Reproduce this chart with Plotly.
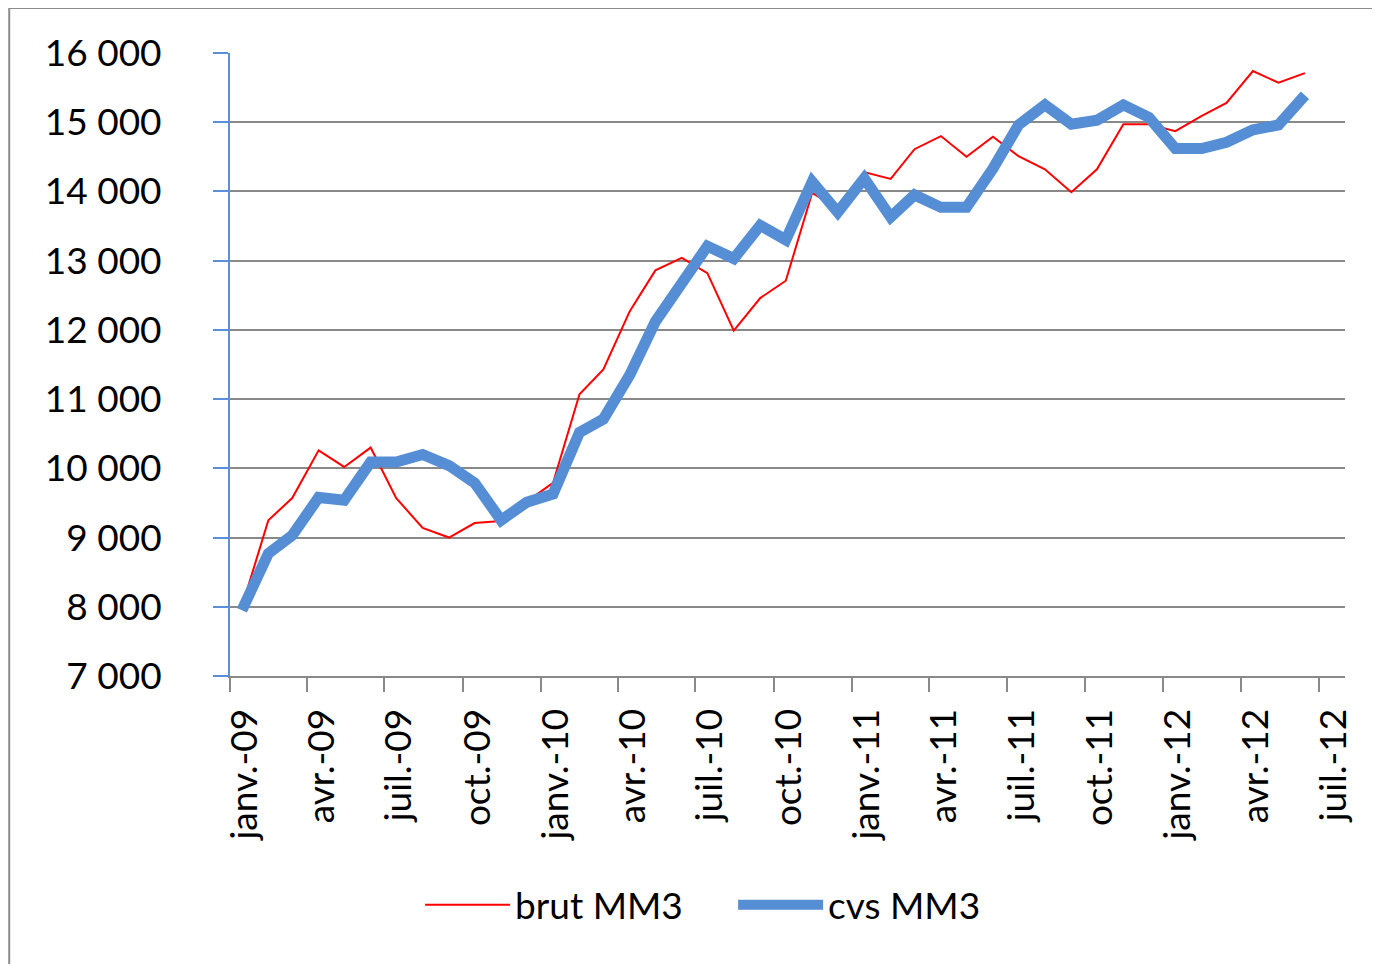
import pandas as pd
import plotly.graph_objects as go

# monthly series, janv. 2009 -> juin 2012
start_month = "2009-01-01"
n_months = 42

brut_mm3 = [8000, 9250, 9570, 10260, 10020, 10300, 9570, 9140, 9000, 9210, 9240, 9520,
            9790, 11070, 11430, 12270, 12860, 13040, 12820, 11990, 12460, 12710, 13980, 13750,
            14280, 14180, 14610, 14800, 14500, 14790, 14510, 14320, 13990, 14320, 14970, 14970,
            14870, 15090, 15280, 15740, 15570, 15710]

cvs_mm3 = [7950, 8770, 9030, 9580, 9540, 10090, 10090, 10200, 10040, 9790, 9250, 9510,
           9630, 10520, 10710, 11350, 12120, 12650, 13210, 13030, 13510, 13300, 14140, 13700,
           14190, 13630, 13950, 13770, 13770, 14330, 14960, 15250, 14970, 15030, 15250, 15070,
           14620, 14620, 14710, 14890, 14960, 15390]

tick_dates = ["2009-01-01", "2009-04-01", "2009-07-01", "2009-10-01",
              "2010-01-01", "2010-04-01", "2010-07-01", "2010-10-01",
              "2011-01-01", "2011-04-01", "2011-07-01", "2011-10-01",
              "2012-01-01", "2012-04-01", "2012-07-01"]
tick_labels = ["janv.-09", "avr.-09", "juil.-09", "oct.-09",
               "janv.-10", "avr.-10", "juil.-10", "oct.-10",
               "janv.-11", "avr.-11", "juil.-11", "oct.-11",
               "janv.-12", "avr.-12", "juil.-12"]

# Excel plots each month in the middle of its slot
months = pd.date_range(start_month, periods=n_months, freq="MS") + pd.Timedelta(days=14)

FONT = "Lato"
GRID = "#898989"
AXIS_BLUE = "#5B8FD8"

fig = go.Figure()
fig.add_trace(go.Scatter(x=months, y=brut_mm3, mode="lines", name="brut MM3",
                         line=dict(color="#FF0000", width=2)))
fig.add_trace(go.Scatter(x=months, y=cvs_mm3, mode="lines", name="cvs MM3",
                         line=dict(color="#558ED5", width=11)))

# page body has an 8px margin, so the figure is 8px smaller and margins shifted
fig.update_layout(
    width=1372, height=956,
    margin=dict(l=222, r=35, t=45, b=288),
    paper_bgcolor="white", plot_bgcolor="white",
    separators=", ",
    font=dict(family=FONT, size=37, color="black"),
    showlegend=True,
    legend=dict(orientation="h", x=0.1705, xanchor="left", y=-0.368, yanchor="middle",
                itemwidth=85, entrywidth=213, entrywidthmode="pixels",
                font=dict(size=37), bgcolor="rgba(0,0,0,0)"),
    shapes=[dict(type="rect", xref="paper", yref="paper",
                 x0=-0.198, x1=1.3, y0=-0.7, y1=1.0722,
                 line=dict(color="#8C8C8C", width=2), layer="below")],
)

fig.update_xaxes(
    type="date", range=["2009-01-01", "2012-08-01"],
    tickvals=tick_dates, ticktext=tick_labels, tickangle=-90,
    ticks="outside", ticklen=14, tickwidth=2, tickcolor=GRID,
    showline=True, linecolor=GRID, linewidth=2,
    showgrid=False, ticklabelshift=15, ticklabelstandoff=2,
)
fig.update_yaxes(
    range=[7000, 16000], dtick=1000, tickformat=",d",
    ticks="outside", ticklen=15, tickwidth=2, tickcolor=AXIS_BLUE,
    showline=True, linecolor=AXIS_BLUE, linewidth=2,
    showgrid=True, gridcolor=GRID, gridwidth=2,
    zeroline=False, ticklabelstandoff=44,
)

fig.write_html("out.html")
